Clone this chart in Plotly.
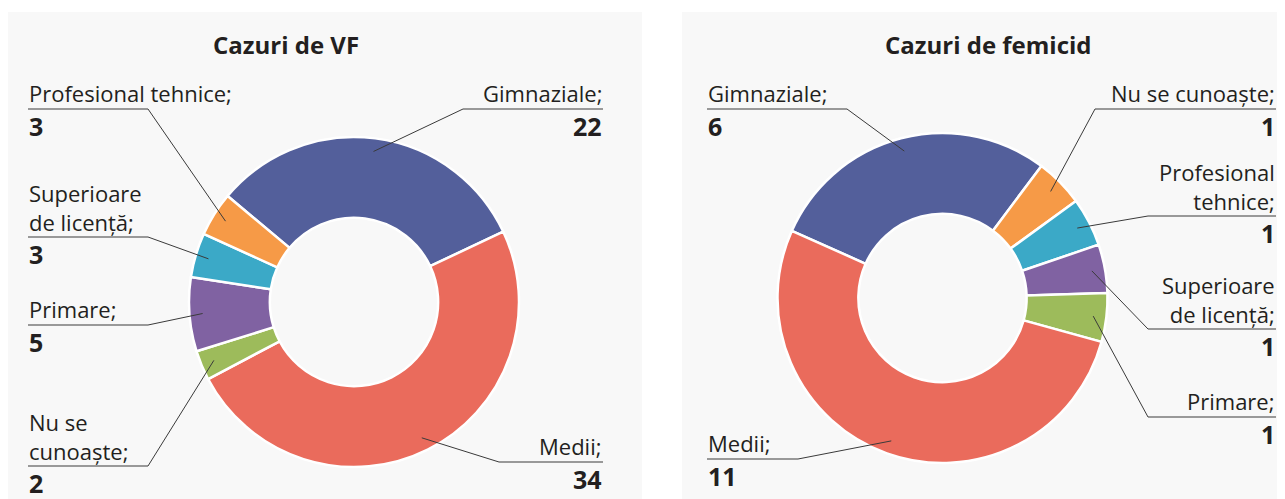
import math
import plotly.graph_objects as go

# browser page has an 8px body margin: figure is drawn from (8, 8)
OFF = 8
W, H = 1285 - OFF, 499 - OFF

# ---------------- data ----------------
vf_title = "Cazuri de VF"
vf_labels = ["Gimnaziale", "Medii", "Nu se cunoaște", "Primare",
             "Superioare de licență", "Profesional tehnice"]
vf_values = [22, 34, 2, 5, 3, 3]
vf_display = ["Gimnaziale;", "Medii;", "Nu se<br>cunoaște;", "Primare;",
              "Superioare<br>de licență;", "Profesional tehnice;"]

fem_title = "Cazuri de femicid"
fem_labels = ["Gimnaziale", "Nu se cunoaște", "Profesional tehnice",
              "Superioare de licență", "Primare", "Medii"]
fem_values = [6, 1, 1, 1, 1, 11]
fem_display = ["Gimnaziale;", "Nu se cunoaște;", "Profesional<br>tehnice;",
               "Superioare<br>de licență;", "Primare;", "Medii;"]

# ---------------- style ----------------
BLUE, RED, ORANGE = "#535f9b", "#ea6b5c", "#f69a47"
CYAN, PURPLE, GREEN = "#3ba9c7", "#8062a2", "#9dbb5b"
vf_colors = [BLUE, RED, GREEN, PURPLE, CYAN, ORANGE]
fem_colors = [BLUE, ORANGE, CYAN, PURPLE, GREEN, RED]

PANEL_BG = "#f8f8f8"
TXT = "#231f20"
LINE = "#3a3a3a"
FONT = "Open Sans"
NAME_SIZE = 22
VAL_SIZE = 25
TITLE_SIZE = 24

# label placement: (side, text x, underline y, knee x)  in screen pixels
vf_place = [("right", 603, 109, 463), ("right", 603, 462, 499),
            ("left", 28, 466, 148), ("left", 28, 325, 148),
            ("left", 28, 237, 148), ("left", 28, 109, 148)]
fem_place = [("left", 707, 109, 847), ("right", 1276, 109, 1095),
             ("right", 1276, 216, 1148), ("right", 1276, 329, 1148),
             ("right", 1276, 417, 1148), ("left", 707, 459, 798)]

charts = [
    dict(title=vf_title, labels=vf_labels, values=vf_values, display=vf_display,
         colors=vf_colors, place=vf_place, cx=354, cy=302, R=165, rot=-50,
         title_x=286, panel=(8, 622)),
    dict(title=fem_title, labels=fem_labels, values=fem_values, display=fem_display,
         colors=fem_colors, place=fem_place, cx=942.5, cy=298, R=165, rot=-66,
         title_x=988, panel=(682, 1285)),
]


def px(x):
    return (x - OFF) / W


def py(y):
    return 1 - (y - OFF) / H


fig = go.Figure()
shapes = []
annotations = []

for c in charts:
    shapes.append(dict(type="rect", xref="paper", yref="paper", layer="below",
                       x0=px(c["panel"][0]), x1=px(c["panel"][1] + 20),
                       y0=py(H + OFF + 20), y1=py(12), fillcolor=PANEL_BG,
                       line=dict(width=0)))
    cx, cy, R = c["cx"], c["cy"], c["R"]
    fig.add_trace(go.Pie(
        labels=c["labels"], values=c["values"], hole=0.51, sort=False,
        direction="clockwise", rotation=c["rot"], textinfo="none",
        hoverinfo="label+value", showlegend=False,
        marker=dict(colors=c["colors"], line=dict(color="white", width=2.5)),
        domain=dict(x=[px(cx - R), px(cx + R)], y=[py(cy + R), py(cy - R)]),
    ))
    annotations.append(dict(xref="paper", yref="paper", x=px(c["title_x"]), y=py(44),
                            text="<b>%s</b>" % c["title"], showarrow=False,
                            xanchor="center", yanchor="middle",
                            font=dict(family=FONT, size=TITLE_SIZE, color=TXT)))
    total = sum(c["values"])
    cum = 0
    for lab, val, disp, (side, tx, uy, kx) in zip(c["labels"], c["values"],
                                                  c["display"], c["place"]):
        mid = c["rot"] + (cum + val / 2) / total * 360
        cum += val
        a = math.radians(mid)
        r = 0.92 * R
        ex, ey = cx + r * math.sin(a), cy - r * math.cos(a)
        shapes.append(dict(type="line", xref="paper", yref="paper",
                           x0=px(tx), x1=px(kx), y0=py(uy), y1=py(uy),
                           line=dict(color=LINE, width=1.2)))
        shapes.append(dict(type="line", xref="paper", yref="paper",
                           x0=px(kx), x1=px(ex), y0=py(uy), y1=py(ey),
                           line=dict(color=LINE, width=1)))
        n = disp.count("<br>") + 1
        anchor = "left" if side == "left" else "right"
        annotations.append(dict(xref="paper", yref="paper", x=px(tx),
                                y=py(uy - (16.5 + (n - 1) * 13.0)),
                                text=disp, showarrow=False, xanchor=anchor,
                                yanchor="middle", align=anchor, borderpad=0,
                                font=dict(family=FONT, size=NAME_SIZE, color=TXT)))
        annotations.append(dict(xref="paper", yref="paper", x=px(tx),
                                y=py(uy + 17), text="<b>%d</b>" % val,
                                showarrow=False, xanchor=anchor, yanchor="middle",
                                align=anchor, borderpad=0,
                                font=dict(family=FONT, size=VAL_SIZE, color=TXT)))

fig.update_layout(
    width=W, height=H, margin=dict(l=0, r=0, t=0, b=0),
    paper_bgcolor="white", plot_bgcolor="white",
    shapes=shapes, annotations=annotations,
    font=dict(family=FONT, color=TXT),
)

fig.write_html("out.html")
